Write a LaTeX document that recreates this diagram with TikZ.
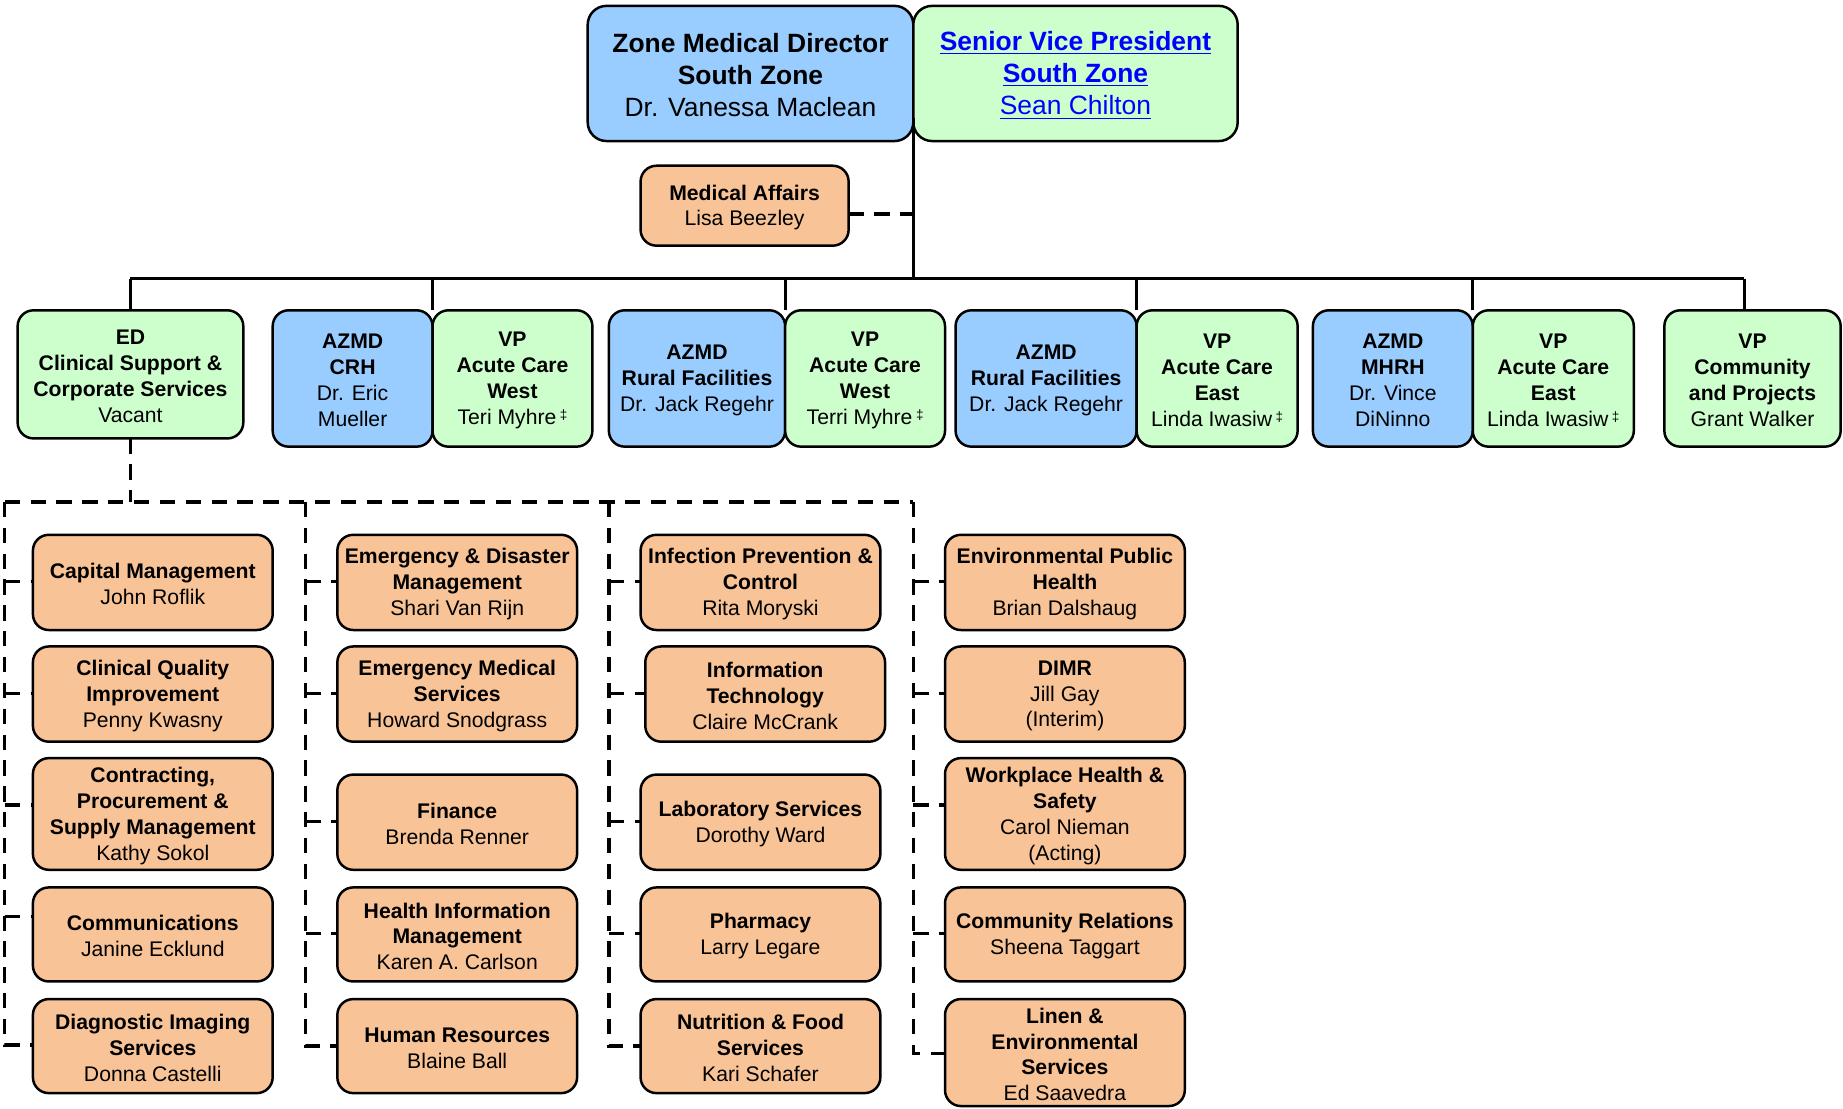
\documentclass[tikz,border=0pt]{standalone}
\usepackage{fontspec}
\setmainfont{Liberation Sans}
\definecolor{boxblue}{RGB}{153,204,255}
\definecolor{boxgreen}{RGB}{204,255,204}
\definecolor{boxorange}{RGB}{248,195,150}
\definecolor{linkblue}{RGB}{0,0,255}
\newcommand\ddagmark{\,\raisebox{0.45ex}{\fontsize{6.5}{6.5}\selectfont ‡}}
\newcommand\bx[7]{%
  \node[#6, minimum width={(#4-#2)*0.02cm}, minimum height={(#5-#3)*0.02cm}] (#1) at ({(#2+#4)/2},{(#3+#5)/2}) {};
  \node[#6, draw=none, fill=none, yshift=-0.9pt] (#1-t) at (#1.center) {#7};}
\tikzset{
  base/.style={draw=black, line width=1.2pt, rounded corners=0.27cm, inner sep=0pt, outer sep=0pt, align=center, font=\fontsize{10.25}{12.5}\selectfont},
  bluebox/.style={base, fill=boxblue},
  greenbox/.style={base, fill=boxgreen},
  orangebox/.style={base, fill=boxorange},
  topbox/.style={rounded corners=0.32cm, font=\fontsize{12.8}{15.6}\selectfont},
  solidline/.style={line width=1.6pt},
  dashline/.style={line width=1.6pt, dash pattern=on 0.26cm off 0.18cm},
}
\begin{document}
\begin{tikzpicture}[x=0.02cm, y=-0.02cm]
\useasboundingbox (0,0) rectangle (1568,943);
% ---- top level
\bx{zmd}{500}{5}{777}{120}{bluebox,topbox}{\textbf{Zone Medical Director}\\\textbf{South Zone}\\Dr. Vanessa Maclean}
\bx{svp}{777}{5}{1053}{120}{greenbox,topbox,text=linkblue}{\underline{\textbf{Senior Vice President}}\\\underline{\textbf{South Zone}}\\\underline{Sean Chilton}}
\bx{ma}{545}{141}{722}{209}{orangebox}{\textbf{Medical Affairs}\\Lisa Beezley}
% ---- second row
\bx{ed}{15}{264}{207}{373}{greenbox}{\textbf{ED}\\\textbf{Clinical Support \&}\\\textbf{Corporate Services}\\Vacant}
\bx{crh}{232}{264}{368}{380}{bluebox}{\textbf{AZMD}\\\textbf{CRH}\\Dr. Eric\\Mueller}
\bx{vpw1}{368}{264}{504}{380}{greenbox}{\textbf{VP}\\\textbf{Acute Care}\\\textbf{West}\\Teri Myhre\ddagmark}
\bx{rf1}{518}{264}{668}{380}{bluebox}{\textbf{AZMD}\\\textbf{Rural Facilities}\\Dr. Jack Regehr}
\bx{vpw2}{668}{264}{804}{380}{greenbox}{\textbf{VP}\\\textbf{Acute Care}\\\textbf{West}\\Terri Myhre\ddagmark}
\bx{rf2}{813}{264}{967}{380}{bluebox}{\textbf{AZMD}\\\textbf{Rural Facilities}\\Dr. Jack Regehr}
\bx{vpe1}{967}{264}{1104}{380}{greenbox}{\textbf{VP}\\\textbf{Acute Care}\\\textbf{East}\\Linda Iwasiw\ddagmark}
\bx{mhrh}{1117}{264}{1253}{380}{bluebox}{\textbf{AZMD}\\\textbf{MHRH}\\Dr. Vince\\DiNinno}
\bx{vpe2}{1253}{264}{1390}{380}{greenbox}{\textbf{VP}\\\textbf{Acute Care}\\\textbf{East}\\Linda Iwasiw\ddagmark}
\bx{vpc}{1416}{264}{1566}{380}{greenbox}{\textbf{VP}\\\textbf{Community}\\\textbf{and Projects}\\Grant Walker}
% ---- column A
\bx{cap}{28}{455}{232}{536}{orangebox}{\textbf{Capital Management}\\John Roflik}
\bx{cqi}{28}{550}{232}{631}{orangebox}{\textbf{Clinical Quality}\\\textbf{Improvement}\\Penny Kwasny}
\bx{cps}{28}{645}{232}{740}{orangebox}{\textbf{Contracting,}\\\textbf{Procurement \&}\\\textbf{Supply Management}\\Kathy Sokol}
\bx{comm}{28}{755}{232}{835}{orangebox}{\textbf{Communications}\\Janine Ecklund}
\bx{diag}{28}{850}{232}{930}{orangebox}{\textbf{Diagnostic Imaging}\\\textbf{Services}\\Donna Castelli}
% ---- column B
\bx{edm}{287}{455}{491}{536}{orangebox}{\textbf{Emergency \& Disaster}\\\textbf{Management}\\Shari Van Rijn}
\bx{ems}{287}{550}{491}{631}{orangebox}{\textbf{Emergency Medical}\\\textbf{Services}\\Howard Snodgrass}
\bx{fin}{287}{659}{491}{740}{orangebox}{\textbf{Finance}\\Brenda Renner}
\bx{him}{287}{755}{491}{835}{orangebox}{\textbf{Health Information}\\\textbf{Management}\\Karen A. Carlson}
\bx{hr}{287}{850}{491}{930}{orangebox}{\textbf{Human Resources}\\Blaine Ball}
% ---- column C
\bx{ipc}{545}{455}{749}{536}{orangebox}{\textbf{Infection Prevention \&}\\\textbf{Control}\\Rita Moryski}
\bx{it}{549}{550}{753}{631}{orangebox}{\textbf{Information}\\\textbf{Technology}\\Claire McCrank}
\bx{lab}{545}{659}{749}{740}{orangebox}{\textbf{Laboratory Services}\\Dorothy Ward}
\bx{pharm}{545}{755}{749}{835}{orangebox}{\textbf{Pharmacy}\\Larry Legare}
\bx{nut}{545}{850}{749}{930}{orangebox}{\textbf{Nutrition \& Food}\\\textbf{Services}\\Kari Schafer}
% ---- column D
\bx{eph}{804}{455}{1008}{536}{orangebox}{\textbf{Environmental Public}\\\textbf{Health}\\Brian Dalshaug}
\bx{dimr}{804}{550}{1008}{631}{orangebox}{\textbf{DIMR}\\Jill Gay\\(Interim)}
\bx{whs}{804}{645}{1008}{740}{orangebox}{\textbf{Workplace Health \&}\\\textbf{Safety}\\Carol Nieman\\(Acting)}
\bx{cr}{804}{755}{1008}{835}{orangebox}{\textbf{Community Relations}\\Sheena Taggart}
\bx{linen}{804}{850}{1008}{941}{orangebox}{\textbf{Linen \&}\\\textbf{Environmental}\\\textbf{Services}\\Ed Saavedra}
% ---- solid connectors
\coordinate (trunktop) at (777,100);
\coordinate (bus) at (777,237);
\coordinate (vpcdrop) at (1484,264);
\draw[solidline] (trunktop) -- (bus);
\draw[solidline] (ed.north |- bus) -- (vpcdrop |- bus);
\draw[solidline] (ed.north |- bus) -- (ed.north);
\draw[solidline] (crh.north east |- bus) -- (crh.north east);
\draw[solidline] (rf1.north east |- bus) -- (rf1.north east);
\draw[solidline] (rf2.north east |- bus) -- (rf2.north east);
\draw[solidline] (mhrh.north east |- bus) -- (mhrh.north east);
\draw[solidline] (vpcdrop |- bus) -- (vpcdrop);
% ---- dashed connectors
\draw[dashline] (ma.east |- 0,182) -- (bus |- 0,182);
\coordinate (colA) at (4,427);
\coordinate (colB) at (260,427);
\coordinate (colC) at (518,427);
\coordinate (colD) at (777,427);
\draw[dashline] (ed.south) -- (ed.south |- colA);
\draw[dashline] (colA) -- (colD);
\draw[dashline] (colA) -- (colA |- 0,889) -- (diag.west |- 0,889);
\draw[dashline] (colA |- 0,495) -- (cap.west |- 0,495);
\draw[dashline] (colA |- 0,590) -- (cqi.west |- 0,590);
\draw[dashline] (colA |- 0,685) -- (cps.west |- 0,685);
\draw[dashline] (colA |- 0,780) -- (comm.west |- 0,780);
\draw[dashline] (colB) -- (colB |- 0,890) -- (hr.west |- 0,890);
\draw[dashline] (colB |- 0,495) -- (edm.west |- 0,495);
\draw[dashline] (colB |- 0,590) -- (ems.west |- 0,590);
\draw[dashline] (colB |- 0,699) -- (fin.west |- 0,699);
\draw[dashline] (colB |- 0,794) -- (him.west |- 0,794);
\draw[dashline] (colC) -- (colC |- 0,890) -- (nut.west |- 0,890);
\draw[dashline] (colC |- 0,495) -- (ipc.west |- 0,495);
\draw[dashline] (colC |- 0,590) -- (it.west |- 0,590);
\draw[dashline] (colC |- 0,699) -- (lab.west |- 0,699);
\draw[dashline] (colC |- 0,794) -- (pharm.west |- 0,794);
\draw[dashline] (colD) -- (colD |- 0,896) -- (linen.west |- 0,896);
\draw[dashline] (colD |- 0,495) -- (eph.west |- 0,495);
\draw[dashline] (colD |- 0,590) -- (dimr.west |- 0,590);
\draw[dashline] (colD |- 0,685) -- (whs.west |- 0,685);
\draw[dashline] (colD |- 0,794) -- (cr.west |- 0,794);
\end{tikzpicture}
\end{document}
